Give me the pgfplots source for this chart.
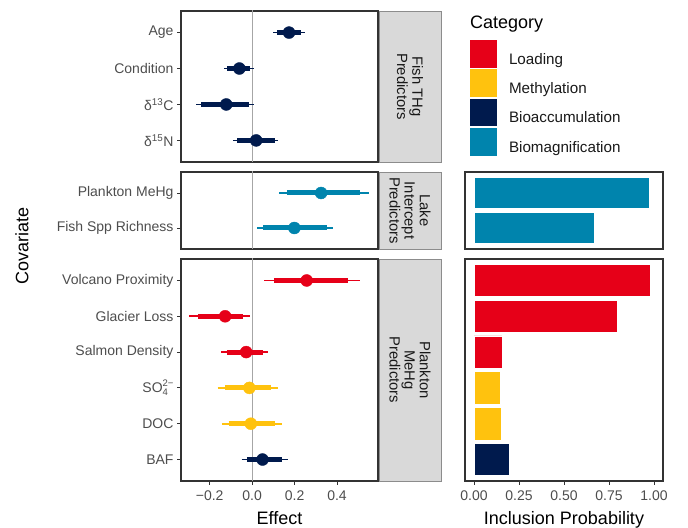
\documentclass[border=0pt]{standalone}
\usepackage{pgfplots}
\pgfplotsset{compat=1.18}
\usepackage{fontspec}
\setmainfont{Liberation Sans}

\definecolor{cLoad}{HTML}{E60018}
\definecolor{cMeth}{HTML}{FFC20E}
\definecolor{cBioa}{HTML}{001A4D}
\definecolor{cBiom}{HTML}{0084AD}
\definecolor{borderc}{HTML}{333333}
\definecolor{tickc}{HTML}{4D4D4D}
\definecolor{stripf}{HTML}{D9D9D9}
\definecolor{stripb}{HTML}{8C8C8C}
\definecolor{zeroc}{HTML}{A6A6A6}

\newcommand\tickfont{\fontsize{14bp}{16bp}\selectfont}
\newcommand\stripfont{\fontsize{14.8bp}{15.2bp}\selectfont}
\newcommand\titlefont{\fontsize{18bp}{20bp}\selectfont}
\newcommand\legfont{\fontsize{15.2bp}{17bp}\selectfont}

% thin interval, thick interval, point estimate
\newcommand\row[7]{%
  \addplot[#1, line width=1.6bp] coordinates {(#3,#2) (#7,#2)};
  \addplot[#1, line width=5bp] coordinates {(#4,#2) (#6,#2)};
  \addplot[#1, only marks, mark=*, mark size=6bp] coordinates {(#5,#2)};
}

\pgfplotsset{
  panel/.style={
    scale only axis, anchor=south west,
    axis line style={draw=borderc, line width=1.2bp},
    tick style={draw=borderc, line width=0.9bp},
    tick align=outside, major tick length=4bp,
    xtick pos=bottom, ytick pos=left,
    tick label style={font=\tickfont, text=tickc},
    xticklabel style={yshift=-2bp},
  },
  forest/.style={panel, width=197bp, xmin=-0.335, xmax=0.593},
  bars/.style={panel, width=198bp, xmin=-0.05, xmax=1.05, ytick=\empty,
    xbar, bar shift=0pt, bar width=0.9},
  zeroline/.style={zeroc, line width=1bp},
}

\begin{document}
\begin{tikzpicture}
\path[use as bounding box] (0,0) rectangle (688bp,528bp);

% ---------- forest panel A: Fish THg predictors
\begin{axis}[forest, at={(181bp,366bp)}, height=151bp,
  ymin=0.4, ymax=4.6, ytick={1,2,3,4},
  yticklabels={δ\textsuperscript{15}N, δ\textsuperscript{13}C, Condition, Age},
  xtick=\empty]
\addplot[zeroline] coordinates {(0,0) (0,5)};
\row{cBioa}{4}{0.100}{0.119}{0.174}{0.231}{0.250}
\row{cBioa}{3}{-0.132}{-0.116}{-0.060}{-0.012}{0.009}
\row{cBioa}{2}{-0.263}{-0.240}{-0.122}{-0.017}{0.009}
\row{cBioa}{1}{-0.088}{-0.069}{0.019}{0.108}{0.122}
\end{axis}

% ---------- forest panel B: Lake intercept predictors
\begin{axis}[forest, at={(181bp,279bp)}, height=77bp,
  ymin=0.4, ymax=2.6, ytick={1,2},
  yticklabels={Fish Spp Richness, Plankton MeHg},
  xtick=\empty]
\addplot[zeroline] coordinates {(0,0) (0,3)};
\row{cBiom}{2}{0.129}{0.166}{0.325}{0.508}{0.552}
\row{cBiom}{1}{0.025}{0.053}{0.199}{0.351}{0.383}
\end{axis}

% ---------- forest panel C: Plankton MeHg predictors
\begin{axis}[forest, at={(181bp,47bp)}, height=222bp,
  ymin=0.4, ymax=6.6, ytick={1,2,3,4,5,6},
  yticklabels={BAF, DOC, SO\raisebox{-3.5bp}{\fontsize{9.5bp}{10.5bp}\selectfont\shortstack[l]{2−\\4}}, Salmon Density, Glacier Loss, Volcano Proximity},
  xtick={-0.2,0,0.2,0.4}, xticklabels={−0.2,0.0,0.2,0.4}]
\addplot[zeroline] coordinates {(0,0) (0,7)};
\row{cLoad}{6}{0.056}{0.104}{0.257}{0.453}{0.508}
\row{cLoad}{5}{-0.295}{-0.253}{-0.127}{-0.041}{-0.012}
\row{cLoad}{4}{-0.146}{-0.119}{-0.028}{0.053}{0.077}
\row{cMeth}{3}{-0.163}{-0.127}{-0.013}{0.088}{0.124}
\row{cMeth}{2}{-0.143}{-0.111}{-0.006}{0.108}{0.143}
\row{cBioa}{1}{-0.049}{-0.025}{0.049}{0.140}{0.171}
\end{axis}

% ---------- strips
\draw[fill=stripf, draw=stripb, line width=0.8bp] (379bp,366bp) rectangle (441bp,517bp);
\draw[fill=stripf, draw=stripb, line width=0.8bp] (379bp,279bp) rectangle (441bp,356bp);
\draw[fill=stripf, draw=stripb, line width=0.8bp] (379bp,47bp) rectangle (441bp,269bp);
\node[rotate=-90, align=center, font=\stripfont, text=black!90] at (410bp,441.5bp) {Fish THg\\Predictors};
\node[rotate=-90, align=center, font=\stripfont, text=black!90] at (410bp,317.5bp) {Lake\\Intercept\\Predictors};
\node[rotate=-90, align=center, font=\stripfont, text=black!90] at (410bp,158bp) {Plankton\\MeHg\\Predictors};

% ---------- bar panel B
\begin{axis}[bars, at={(465bp,279bp)}, height=77bp,
  ymin=0.4, ymax=2.6, xtick=\empty]
\addplot[fill=cBiom, draw=white, line width=0.6bp] coordinates {(0.973,2) (0.669,1)};
\end{axis}

% ---------- bar panel C
\begin{axis}[bars, at={(465bp,47bp)}, height=222bp,
  ymin=0.4, ymax=6.6,
  xtick={0,0.25,0.5,0.75,1}, xticklabels={0.00,0.25,0.50,0.75,1.00}]
\addplot[fill=cLoad, draw=white, line width=0.6bp] coordinates {(0.982,6) (0.796,5) (0.155,4)};
\addplot[fill=cMeth, draw=white, line width=0.6bp] coordinates {(0.146,3) (0.151,2)};
\addplot[fill=cBioa, draw=white, line width=0.6bp] coordinates {(0.196,1)};
\end{axis}

% ---------- legend
\node[anchor=base west, font=\titlefont, inner sep=0pt] at (470bp,499.5bp) {Category};
\begin{axis}[hide axis, scale only axis, width=1bp, height=1bp,
  at={(470bp,488bp)}, anchor=north west,
  xmin=0, xmax=1, ymin=0, ymax=1,
  legend cell align=left,
  legend image code/.code={\fill[#1, draw=none] (0bp,-8.4bp) rectangle (27bp,19.3bp); \path (39bp,0bp);},
  legend style={draw=none, fill=none, inner sep=0pt, outer sep=0pt,
    row sep=1.7bp, at={(0,1)}, anchor=north west, font=\legfont,
    nodes={inner sep=0pt, text=black!90}}]
\addlegendimage{fill=cLoad, draw=none}\addlegendentry{Loading}
\addlegendimage{fill=cMeth, draw=none}\addlegendentry{Methylation}
\addlegendimage{fill=cBioa, draw=none}\addlegendentry{Bioaccumulation}
\addlegendimage{fill=cBiom, draw=none}\addlegendentry{Biomagnification}
\end{axis}

% ---------- axis titles
\node[rotate=90, font=\titlefont, anchor=center] at (22bp,282bp) {Covariate};
\node[font=\titlefont, anchor=base] at (279.5bp,4bp) {Effect};
\node[font=\titlefont, anchor=base] at (564bp,4bp) {Inclusion Probability};
\end{tikzpicture}
\end{document}
